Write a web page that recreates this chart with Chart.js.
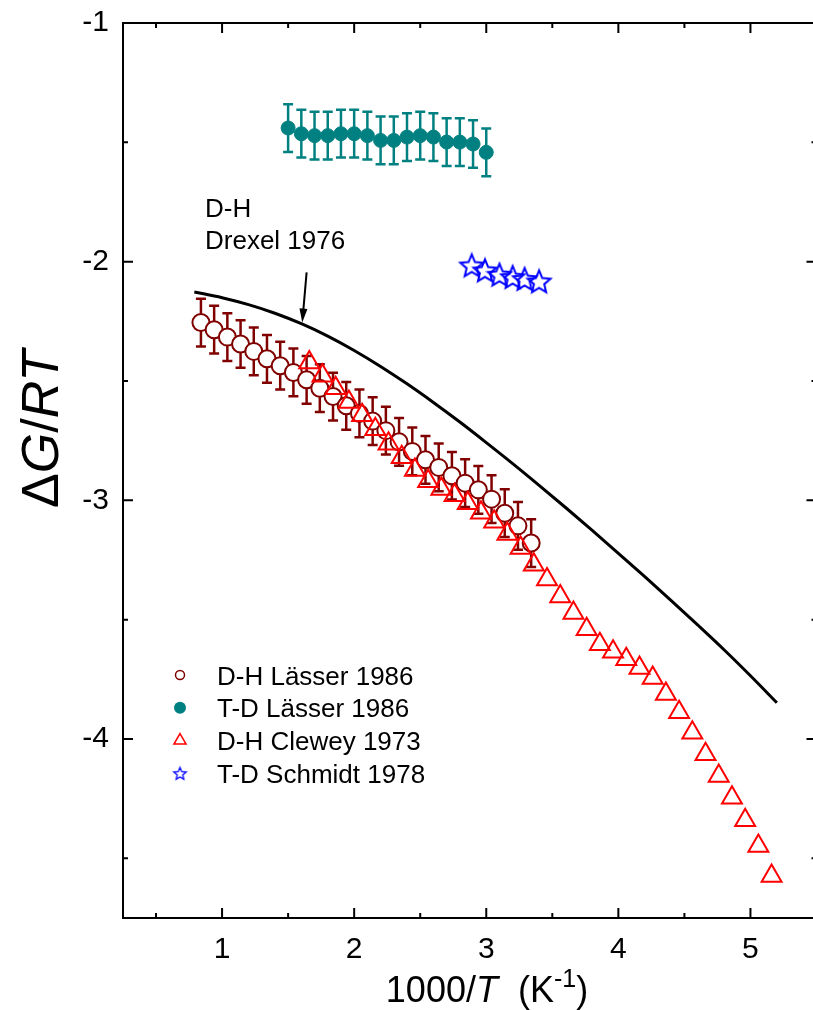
<!DOCTYPE html>
<html>
<head>
<meta charset="utf-8">
<script src="https://cdn.jsdelivr.net/npm/chart.js@4.4.0/dist/chart.umd.min.js"></script>
<style>
html, body { margin: 0; padding: 0; overflow: hidden; background: #fff; }
#wrap { width: 813px; height: 1010px; overflow: hidden; }
canvas { display: block; }
</style>
</head>
<body>
<div id="wrap"><canvas id="chart" width="830" height="1010"></canvas></div>
<script>
// D-H Lasser 1986, open circles with error bars
const dhLasserX = [0.84, 0.94, 1.04, 1.14, 1.24, 1.34, 1.44, 1.54, 1.64, 1.74, 1.84, 1.94, 2.04,
                   2.14, 2.24, 2.34, 2.44, 2.54, 2.64, 2.74, 2.84, 2.94, 3.04, 3.14, 3.24, 3.34];
const dhLasserY = [-2.255, -2.285, -2.316, -2.345, -2.376, -2.407, -2.436, -2.464, -2.495, -2.530, -2.565, -2.604, -2.636,
                   -2.668, -2.708, -2.755, -2.795, -2.830, -2.862, -2.897, -2.928, -2.956, -2.995, -3.054, -3.107, -3.179];
const dhLasserErr = [0.1, 0.1, 0.1, 0.1, 0.1, 0.1, 0.1, 0.1, 0.1, 0.1, 0.1, 0.1, 0.1,
                     0.1, 0.1, 0.1, 0.1, 0.1, 0.1, 0.1, 0.1, 0.1, 0.1, 0.1, 0.1, 0.1];

// T-D Lasser 1986, filled circles with error bars
const tdLasserX = [1.5, 1.6, 1.7, 1.8, 1.9, 2.0, 2.1, 2.2, 2.3, 2.4, 2.5, 2.6, 2.7, 2.8, 2.9, 3.0];
const tdLasserY = [-1.440, -1.464, -1.472, -1.472, -1.464, -1.464, -1.472, -1.492,
                   -1.492, -1.478, -1.472, -1.478, -1.499, -1.499, -1.507, -1.542];
const tdLasserErr = [0.1, 0.1, 0.1, 0.1, 0.1, 0.1, 0.1, 0.1, 0.1, 0.1, 0.1, 0.1, 0.1, 0.1, 0.1, 0.1];

// D-H Clewey 1973, open triangles
const cleweyX = [1.66, 1.76, 1.86, 1.96, 2.06, 2.16, 2.26, 2.36, 2.46, 2.56, 2.66, 2.76,
                 2.86, 2.96, 3.06, 3.16, 3.26, 3.36, 3.46, 3.56, 3.66, 3.76, 3.86, 3.96,
                 4.06, 4.16, 4.26, 4.36, 4.46, 4.56, 4.66, 4.76, 4.86, 4.96, 5.06, 5.16];
const cleweyY = [-2.422, -2.478, -2.530, -2.588, -2.644, -2.702, -2.763, -2.819, -2.873, -2.920, -2.953, -2.979,
                 -3.012, -3.052, -3.090, -3.141, -3.200, -3.270, -3.332, -3.403, -3.472, -3.540, -3.603, -3.634,
                 -3.666, -3.703, -3.744, -3.811, -3.888, -3.974, -4.064, -4.155, -4.246, -4.340, -4.448, -4.574];

// T-D Schmidt 1978, open stars
const schmidtX = [2.89, 2.99, 3.10, 3.20, 3.29, 3.40];
const schmidtY = [-2.016, -2.037, -2.055, -2.065, -2.073, -2.083];

// D-H Drexel 1976, solid curve
const drexelX = [0.79, 1.0, 1.2, 1.4, 1.6, 1.8, 2.0, 2.2, 2.4, 2.6, 2.8, 3.0,
                 3.2, 3.4, 3.6, 3.8, 4.0, 4.2, 4.4, 4.6, 4.8, 5.0, 5.2];
const drexelY = [-2.127, -2.151, -2.180, -2.216, -2.260, -2.312, -2.372, -2.439, -2.512, -2.590, -2.672, -2.758,
                 -2.846, -2.937, -3.030, -3.125, -3.222, -3.320, -3.420, -3.522, -3.626, -3.735, -3.848];

const xMajor = [1, 2, 3, 4, 5];
const xMinor = [0.5, 1.5, 2.5, 3.5, 4.5];
const yMajor = [-1, -2, -3, -4];
const yMinor = [-1.5, -2.5, -3.5, -4.5];

const FONT = "'Liberation Sans', Arial, sans-serif";
const toPoints = (xs, ys) => xs.map((x, i) => ({x: x, y: ys[i]}));

function starImage(r, lw, color) {
    const s = Math.ceil(2 * r + lw + 2);
    const c = document.createElement('canvas');
    c.width = s; c.height = s;
    const g = c.getContext('2d');
    g.translate(s / 2, s / 2 + r * 0.08);
    g.beginPath();
    for (let i = 0; i < 10; i++) {
        const rr = i % 2 ? r * 0.45 : r;
        const a = -Math.PI / 2 + i * Math.PI / 5;
        g.lineTo(rr * Math.cos(a), rr * Math.sin(a));
    }
    g.closePath();
    g.lineJoin = 'miter';
    g.strokeStyle = color;
    g.lineWidth = lw;
    g.stroke();
    return c;
}
const bigStar = starImage(12, 2, '#0000ff');
const smallStar = starImage(6.5, 1.3, '#0000ff');

// error bars under the markers
const errorBars = {
    id: 'errorBars',
    beforeDatasetsDraw(chart) {
        const {ctx, scales: {x, y}, chartArea: a} = chart;
        ctx.save();
        ctx.beginPath();
        ctx.rect(a.left, a.top, a.right - a.left, a.bottom - a.top);
        ctx.clip();
        chart.data.datasets.forEach(ds => {
            if (!ds.errors) return;
            ctx.strokeStyle = ds.errorColor;
            ctx.lineWidth = 2.5;
            ds.data.forEach((p, i) => {
                const px = x.getPixelForValue(p.x);
                const top = y.getPixelForValue(p.y + ds.errors[i]);
                const bot = y.getPixelForValue(p.y - ds.errors[i]);
                const cap = 5;
                ctx.beginPath();
                ctx.moveTo(px, top); ctx.lineTo(px, bot);
                ctx.moveTo(px - cap, top); ctx.lineTo(px + cap, top);
                ctx.moveTo(px - cap, bot); ctx.lineTo(px + cap, bot);
                ctx.stroke();
            });
        });
        ctx.restore();
    }
};

function drawParts(ctx, parts, x, y) {
    // parts: [text, font, dy]; x is the center
    let w = 0;
    parts.forEach(p => { ctx.font = p[1]; w += ctx.measureText(p[0]).width; });
    let cx = x - w / 2;
    parts.forEach(p => {
        ctx.font = p[1];
        ctx.fillText(p[0], cx, y + (p[2] || 0));
        cx += ctx.measureText(p[0]).width;
    });
}

// frame, inward ticks, titles, legend and annotation
const decorations = {
    id: 'decorations',
    afterDraw(chart) {
        const {ctx, chartArea: a, scales: {x, y}} = chart;
        ctx.save();
        ctx.strokeStyle = '#000';
        ctx.fillStyle = '#000';
        ctx.lineWidth = 2;
        ctx.strokeRect(a.left, a.top, a.right - a.left, a.bottom - a.top);
        ctx.beginPath();
        const tick = (vals, len) => {
            vals.forEach(v => {
                const px = x.getPixelForValue(v);
                ctx.moveTo(px, a.bottom); ctx.lineTo(px, a.bottom - len);
                ctx.moveTo(px, a.top); ctx.lineTo(px, a.top + len);
            });
        };
        const tickY = (vals, len) => {
            vals.forEach(v => {
                const py = y.getPixelForValue(v);
                ctx.moveTo(a.left, py); ctx.lineTo(a.left + len, py);
                ctx.moveTo(a.right, py); ctx.lineTo(a.right - len, py);
            });
        };
        tick(xMajor, 10); tick(xMinor, 5);
        tickY(yMajor, 10); tickY(yMinor, 5);
        ctx.stroke();

        // axis titles
        ctx.textAlign = 'left';
        ctx.textBaseline = 'alphabetic';
        drawParts(ctx, [
            ['1000/', '36px ' + FONT],
            ['T', 'italic 36px ' + FONT],
            ['  (K', '36px ' + FONT],
            ['-1', '25px ' + FONT, -15],
            [')', '36px ' + FONT]
        ], 487, 1002);

        ctx.save();
        ctx.translate(58, 429);
        ctx.rotate(-Math.PI / 2);
        drawParts(ctx, [
            ['\u0394', '52px ' + FONT],
            ['G', 'italic 52px ' + FONT],
            ['/', '52px ' + FONT],
            ['RT', 'italic 52px ' + FONT]
        ], 0, 0);
        ctx.restore();

        // legend
        const lx = 180, ly = 675, dy = 32.8;
        ctx.font = '26px ' + FONT;
        chart.data.datasets.filter(d => d.legendRow !== undefined).forEach(ds => {
            const my = ly + ds.legendRow * dy;
            ctx.fillStyle = '#000';
            ctx.fillText(ds.label, 217, my + 9.5);
            ctx.beginPath();
            if (ds.legendRow === 0) {
                ctx.arc(lx, my, 4.5, 0, Math.PI * 2);
                ctx.strokeStyle = '#800000'; ctx.lineWidth = 1.5; ctx.stroke();
            } else if (ds.legendRow === 1) {
                ctx.arc(lx, my, 6, 0, Math.PI * 2);
                ctx.fillStyle = '#008080'; ctx.fill();
            } else if (ds.legendRow === 2) {
                const r = 7;
                ctx.moveTo(lx, my - r);
                ctx.lineTo(lx + r * 0.866, my + r / 2);
                ctx.lineTo(lx - r * 0.866, my + r / 2);
                ctx.closePath();
                ctx.strokeStyle = '#ff0000'; ctx.lineWidth = 1.5; ctx.stroke();
            } else {
                ctx.drawImage(smallStar, lx - smallStar.width / 2, my - smallStar.height / 2);
            }
        });

        // annotation for the Drexel curve
        ctx.fillStyle = '#000';
        ctx.font = '26px ' + FONT;
        ctx.fillText('D-H', 205, 217);
        ctx.fillText('Drexel 1976', 205, 249);
        const x0 = x.getPixelForValue(1.64), y0 = y.getPixelForValue(-2.045);
        const x1 = x.getPixelForValue(1.607), y1 = y.getPixelForValue(-2.255);
        const ang = Math.atan2(y1 - y0, x1 - x0);
        ctx.strokeStyle = '#000';
        ctx.lineWidth = 2;
        ctx.beginPath();
        ctx.moveTo(x0, y0);
        ctx.lineTo(x1 - 10 * Math.cos(ang), y1 - 10 * Math.sin(ang));
        ctx.stroke();
        ctx.beginPath();
        ctx.moveTo(x1, y1);
        ctx.lineTo(x1 - 14 * Math.cos(ang) + 4 * Math.sin(ang), y1 - 14 * Math.sin(ang) - 4 * Math.cos(ang));
        ctx.lineTo(x1 - 14 * Math.cos(ang) - 4 * Math.sin(ang), y1 - 14 * Math.sin(ang) + 4 * Math.cos(ang));
        ctx.closePath();
        ctx.fill();
        ctx.restore();
    }
};

Chart.defaults.font.family = FONT;
Chart.defaults.color = '#000';

const ctx = document.getElementById('chart').getContext('2d');
const chart = new Chart(ctx, {
    type: 'scatter',
    data: {
        datasets: [
            {
                label: 'D-H Clewey 1973',
                data: toPoints(cleweyX, cleweyY),
                pointStyle: 'triangle',
                pointRadius: 11.5,
                borderWidth: 2,
                borderColor: '#ff0000',
                backgroundColor: 'rgba(0,0,0,0)',
                order: 0,
                legendRow: 2
            },
            {
                label: 'D-H Lässer 1986',
                data: toPoints(dhLasserX, dhLasserY),
                errors: dhLasserErr,
                errorColor: '#800000',
                pointStyle: 'circle',
                pointRadius: 8.5,
                borderWidth: 2,
                borderColor: '#800000',
                backgroundColor: '#ffffff',
                order: 1,
                legendRow: 0
            },
            {
                label: 'T-D Lässer 1986',
                data: toPoints(tdLasserX, tdLasserY),
                errors: tdLasserErr,
                errorColor: '#008080',
                pointStyle: 'circle',
                pointRadius: 7,
                borderWidth: 1,
                borderColor: '#008080',
                backgroundColor: '#008080',
                order: 2,
                legendRow: 1
            },
            {
                label: 'T-D Schmidt 1978',
                data: toPoints(schmidtX, schmidtY),
                pointStyle: bigStar,
                pointRadius: 12,
                order: 3,
                legendRow: 3
            },
            {
                label: 'D-H Drexel 1976',
                data: toPoints(drexelX, drexelY),
                showLine: true,
                pointRadius: 0,
                borderWidth: 3,
                borderColor: '#000000',
                cubicInterpolationMode: 'monotone',
                order: 4
            }
        ]
    },
    options: {
        responsive: false,
        animation: false,
        events: [],
        layout: { padding: { top: 23, right: 12, left: 0, bottom: 0 } },
        plugins: {
            legend: { display: false },
            tooltip: { enabled: false }
        },
        scales: {
            x: {
                type: 'linear',
                min: 0.25,
                max: 5.5,
                grid: { display: false, drawTicks: false },
                border: { display: false },
                ticks: { font: { size: 30 }, padding: 14, maxRotation: 0 },
                afterBuildTicks: s => { s.ticks = xMajor.map(v => ({value: v})); },
                afterFit: s => { s.height = 92; s.paddingLeft = 0; s.paddingRight = 0; }
            },
            y: {
                type: 'linear',
                min: -4.75,
                max: -1,
                grid: { display: false, drawTicks: false },
                border: { display: false },
                ticks: { font: { size: 30 }, padding: 14 },
                afterBuildTicks: s => { s.ticks = yMajor.map(v => ({value: v})); },
                afterFit: s => { s.width = 123; s.paddingTop = 0; s.paddingBottom = 0; }
            }
        }
    },
    plugins: [errorBars, decorations]
});
</script>
</body>
</html>
